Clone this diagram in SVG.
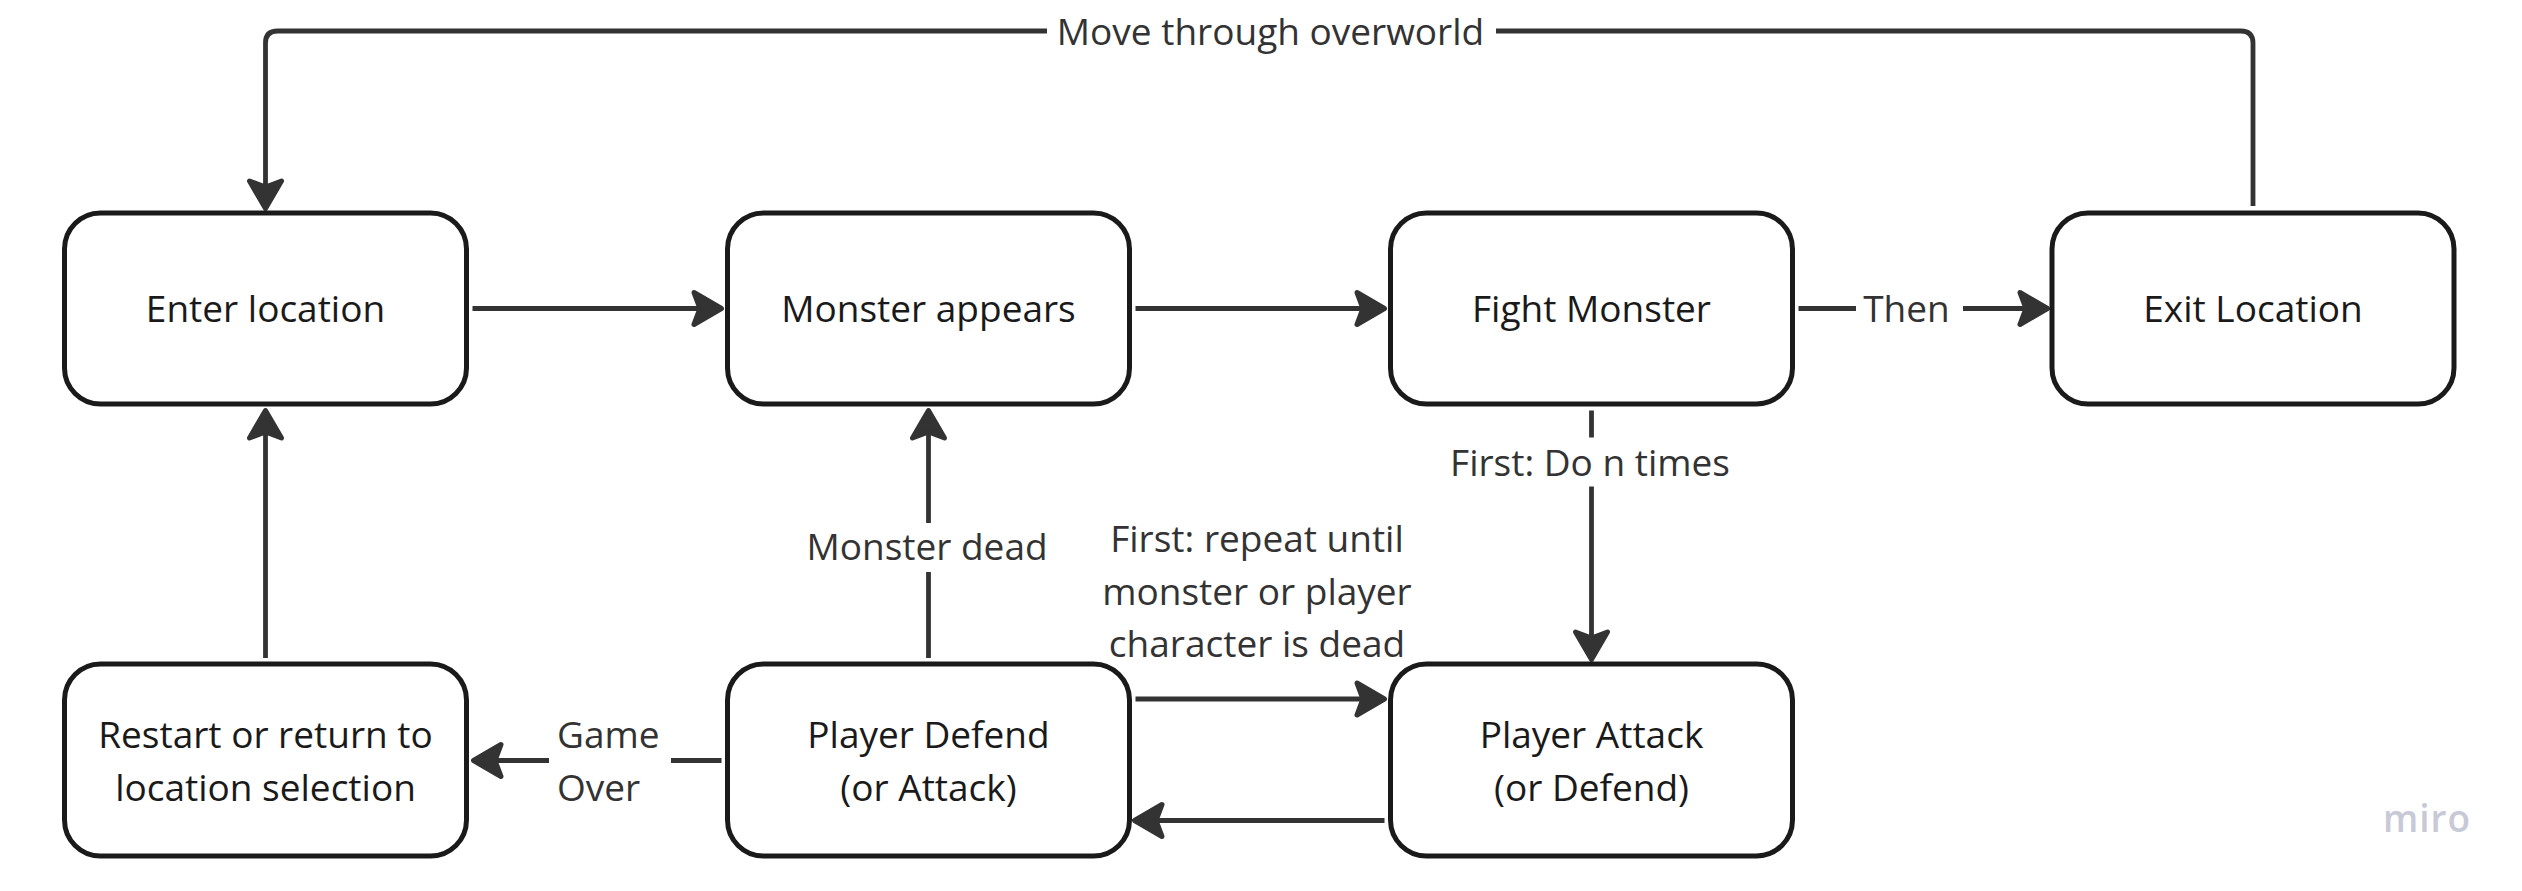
<svg xmlns="http://www.w3.org/2000/svg" width="2522" height="891" viewBox="0 0 2522 891">
  <defs>
    <style>
      .node rect { fill: #ffffff; stroke: #1a1a1a; stroke-width: 5; }
      .node text { font-family: "Open Sans", "Noto Sans", "Liberation Sans", sans-serif; font-size: 37px; fill: #1a1a1a; text-anchor: middle; }
      .conn { fill: none; stroke: #333333; stroke-width: 4.8; stroke-linecap: butt; }
      .lbl { font-family: "Open Sans", "Noto Sans", "Liberation Sans", sans-serif; font-size: 37px; fill: #333333; text-anchor: middle; }
      .lbl-start { text-anchor: start; }
      .logo { font-family: "Open Sans", "Noto Sans", "Liberation Sans", sans-serif; font-size: 37px; font-weight: 600; fill: #c8c9d7; letter-spacing: 1px; }
    </style>
    <marker id="ah" markerUnits="userSpaceOnUse" viewBox="-40 -25 50 50" markerWidth="50" markerHeight="50" refX="-22" refY="0" orient="auto" overflow="visible">
      <path d="M-2.5,0 L-30,-16 L-24,0 L-30,16 Z" fill="#333333" stroke="#333333" stroke-width="5" stroke-linejoin="round"/>
    </marker>
  </defs>

  <rect x="0" y="0" width="2522" height="891" fill="#ffffff"/>

  <g id="connectors">
    <g id="c-exit-enter">
      <path class="conn" d="M2253,206 V43 Q2253,31 2241,31 H1496"/>
      <path class="conn" d="M1047,31 H277.5 Q265.5,31 265.5,43 V189" marker-end="url(#ah)"/>
      <text class="lbl" x="1270.5" y="45">Move through overworld</text>
    </g>
    <g id="c-enter-monster">
      <path class="conn" d="M472.5,308.5 H702" marker-end="url(#ah)"/>
    </g>
    <g id="c-monster-fight">
      <path class="conn" d="M1135.5,308.5 H1365" marker-end="url(#ah)"/>
    </g>
    <g id="c-fight-exit">
      <path class="conn" d="M1798.5,308.5 H1856"/>
      <path class="conn" d="M1963,308.5 H2028" marker-end="url(#ah)"/>
      <text class="lbl" x="1906.5" y="322">Then</text>
    </g>
    <g id="c-fight-attack">
      <path class="conn" d="M1591.5,410.5 V437.5"/>
      <path class="conn" d="M1591.5,486.5 V640" marker-end="url(#ah)"/>
      <text class="lbl" x="1590" y="476">First: Do n times</text>
    </g>
    <g id="c-defend-monster">
      <path class="conn" d="M928.5,658 V572"/>
      <path class="conn" d="M928.5,523 V430" marker-end="url(#ah)"/>
      <text class="lbl" x="927" y="560">Monster dead</text>
    </g>
    <g id="c-restart-enter">
      <path class="conn" d="M265.5,658 V430" marker-end="url(#ah)"/>
    </g>
    <g id="c-defend-attack">
      <path class="conn" d="M1135.5,699 H1365" marker-end="url(#ah)"/>
      <text class="lbl" x="1257" y="552">First: repeat until</text>
      <text class="lbl" x="1257" y="604.5">monster or player</text>
      <text class="lbl" x="1257" y="657">character is dead</text>
    </g>
    <g id="c-attack-defend">
      <path class="conn" d="M1384.5,820.5 H1154" marker-end="url(#ah)"/>
    </g>
    <g id="c-defend-restart">
      <path class="conn" d="M721.5,760.5 H671"/>
      <path class="conn" d="M549,760.5 H493" marker-end="url(#ah)"/>
      <text class="lbl lbl-start" x="557" y="748">Game</text>
      <text class="lbl lbl-start" x="557" y="800.5">Over</text>
    </g>
  </g>

  <g id="node-enter-location" class="node">
    <rect x="64.5" y="213" width="402" height="191" rx="36"/>
    <text x="265.5" y="322">Enter location</text>
  </g>
  <g id="node-monster-appears" class="node">
    <rect x="727.5" y="213" width="402" height="191" rx="36"/>
    <text x="928.5" y="322">Monster appears</text>
  </g>
  <g id="node-fight-monster" class="node">
    <rect x="1390.5" y="213" width="402" height="191" rx="36"/>
    <text x="1591.5" y="322">Fight Monster</text>
  </g>
  <g id="node-exit-location" class="node">
    <rect x="2052" y="213" width="402" height="191" rx="36"/>
    <text x="2253" y="322">Exit Location</text>
  </g>
  <g id="node-restart" class="node">
    <rect x="64.5" y="664" width="402" height="192" rx="36"/>
    <text x="265.5" y="748">Restart or return to</text>
    <text x="265.5" y="801">location selection</text>
  </g>
  <g id="node-player-defend" class="node">
    <rect x="727.5" y="664" width="402" height="192" rx="36"/>
    <text x="928.5" y="748">Player Defend</text>
    <text x="928.5" y="801">(or Attack)</text>
  </g>
  <g id="node-player-attack" class="node">
    <rect x="1390.5" y="664" width="402" height="192" rx="36"/>
    <text x="1591.5" y="748">Player Attack</text>
    <text x="1591.5" y="801">(or Defend)</text>
  </g>

  <text class="logo" x="2383" y="832">miro</text>
</svg>
